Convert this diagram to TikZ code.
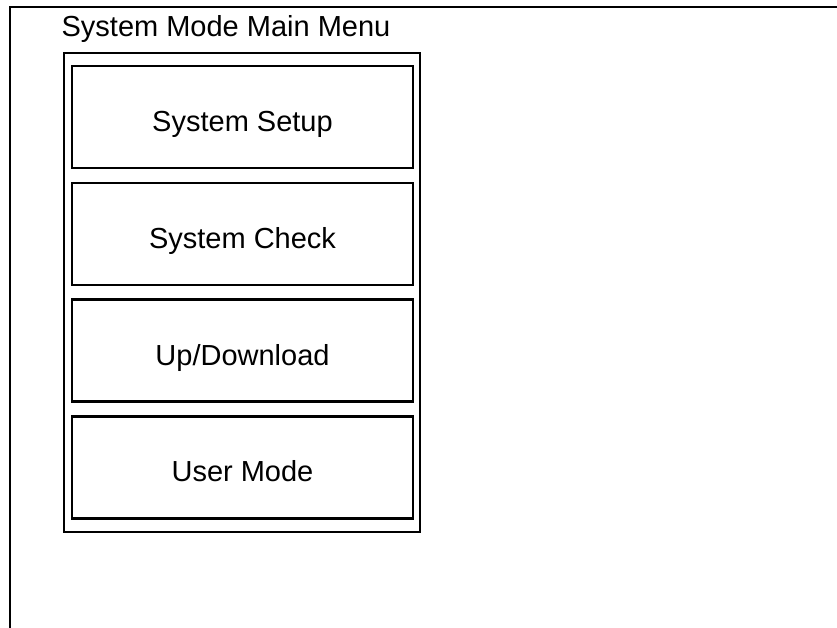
\documentclass[tikz,border=0pt]{standalone}
\usepackage{fontspec}
\setmainfont{Liberation Sans}
\usetikzlibrary{positioning}

\begin{document}
\begin{tikzpicture}[x=1pt,y=-1pt,node distance=12.5pt,line width=2.3pt,
    menubtn/.style={draw,minimum width=341pt,minimum height=102pt,
      inner sep=0pt,text height=28.8pt,text depth=0pt,
      font=\fontsize{29}{34}\selectfont}]

  \useasboundingbox (0,0) rectangle (837,628);

  % screen border (cut off at right and bottom)
  \coordinate (scr_tr) at (840,7);
  \coordinate (scr_tl) at (10,7);
  \coordinate (scr_bl) at (10,631);
  \draw (scr_tr) -- (scr_tl) -- (scr_bl);

  \node[anchor=base,font=\fontsize{29}{34}\selectfont] (title) at (226,37) {System Mode Main Menu};

  \node[draw,minimum width=356pt,minimum height=479pt,inner sep=0pt] (menu) at (242,292.5) {};

  \node[menubtn]        (setup)  at (242.5,117) {System Setup};
  \node[menubtn]        (check)  [below=of setup] {System Check};
  \node[menubtn]        (updown) [below=of check] {Up/Download};
  \node[menubtn]        (user)   [below=of updown] {User Mode};
\end{tikzpicture}
\end{document}
